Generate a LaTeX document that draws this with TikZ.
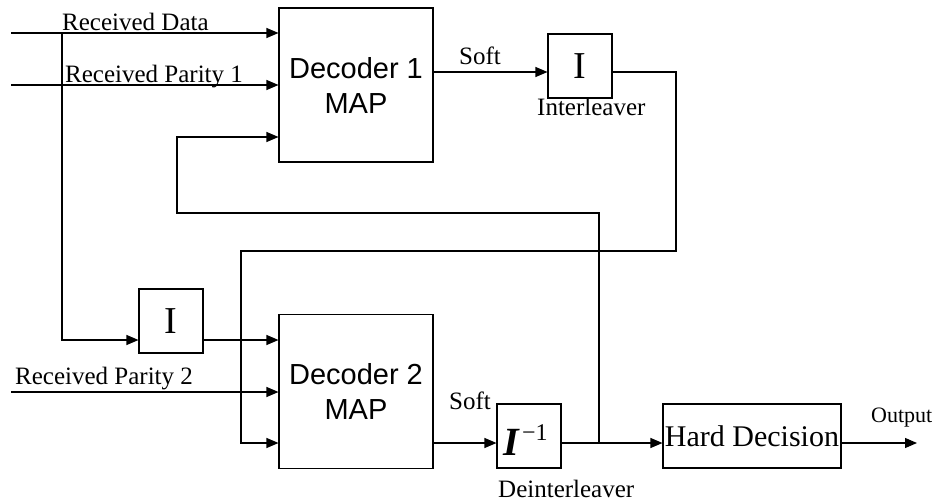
\documentclass[tikz,border=0pt]{standalone}
\usepackage{fontspec}
\setmainfont{Liberation Serif}
\newfontfamily\arialfont{Liberation Sans}
\usetikzlibrary{arrows.meta}
\tikzset{
  block/.style={rectangle, draw=black, line width=1.1pt, fill=white, align=center, inner sep=0pt},
  decbox/.style={block, minimum width=154pt, minimum height=154pt,
    font=\arialfont\fontsize{29}{35}\selectfont},
  ibox/.style={block, minimum width=64pt, minimum height=64pt, font=\fontsize{38}{40}\selectfont},
  lbl/.style={inner sep=0pt, anchor=base west, font=\fontsize{25}{28}\selectfont},
  flow/.style={-{Triangle[length=12pt,width=10pt]}, draw=black, line width=1.1pt},
}

\begin{document}
\begin{tikzpicture}[x=1pt,y=-1pt]
    \useasboundingbox (0,0) rectangle (943,503);
    % blocks
    \node[decbox] (dec1) at (356,85) {Decoder 1\\MAP};
    \node[ibox] (intl1) at (580,66) {I};
    \node[decbox] (dec2) at (356,391.5) {Decoder 2\\MAP};
    \node[ibox] (intl2) at (171,321) {I};
    \node[ibox] (deint) at (529,436)
      {\rule{0pt}{38pt}\hspace{3pt}{\fontsize{40}{40}\selectfont\bfseries\itshape I}\hspace{3pt}\raisebox{15pt}{\fontsize{24}{24}\selectfont −1}\hspace{10pt}};
    \node[block, minimum width=178pt, minimum height=64pt, font=\fontsize{30}{32}\selectfont] (hard) at (752,436) {Hard Decision};
    % wire points
    \coordinate (rd) at (11,33);
    \coordinate (p1) at (11,85);
    \coordinate (p2) at (11,392);
    \coordinate (tap1) at (62,33);
    \coordinate (in2) at (62,340);
    \coordinate (s1) at (500,72);
    \coordinate (ret) at (676,251);
    \coordinate (ret2) at (241,443);
    \coordinate (fb) at (599,443);
    \coordinate (fbtop) at (177,213);
    \coordinate (fbin) at (200,137);
    \coordinate (out) at (917,443);
    % connectors
    \draw[flow] (rd) -- (dec1.west |- rd);
    \draw[flow] (p1) -- (dec1.west |- p1);
    \draw[flow] (tap1) -- (in2) -- (intl2.west |- in2);
    \draw[flow] (intl2.east |- in2) -- (dec2.west |- in2);
    \draw[flow] (p2) -- (dec2.west |- p2);
    \draw[flow] (dec1.east |- s1) -- (intl1.west |- s1);
    \draw[flow] (intl1.east |- s1) -| (ret) -| (ret2) -- (dec2.west |- ret2);
    \draw[flow] (dec2.east |- ret2) -- (deint.west |- ret2);
    \draw[flow] (deint.east |- ret2) -- (hard.west |- ret2);
    \draw[flow] (fb) |- (fbtop) |- (dec1.west |- fbin);
    \draw[flow] (hard.east |- ret2) -- (out);
    % labels
    \node[lbl] (lrd) at (62,31) {Received Data};
    \node[lbl] (lp1) at (65,83) {Received Parity 1};
    \node[lbl] (lp2) at (15,384) {Received Parity 2};
    \node[lbl] (ls1) at (459,65) {Soft};
    \node[lbl] (lil) at (537,115) {Interleaver};
    \node[lbl] (ls2) at (449,409) {Soft};
    \node[lbl] (ldi) at (498,497) {Deinterleaver};
    \node[lbl, font=\fontsize{22}{24}\selectfont] (lout) at (871,422) {Output};
\end{tikzpicture}
\end{document}
